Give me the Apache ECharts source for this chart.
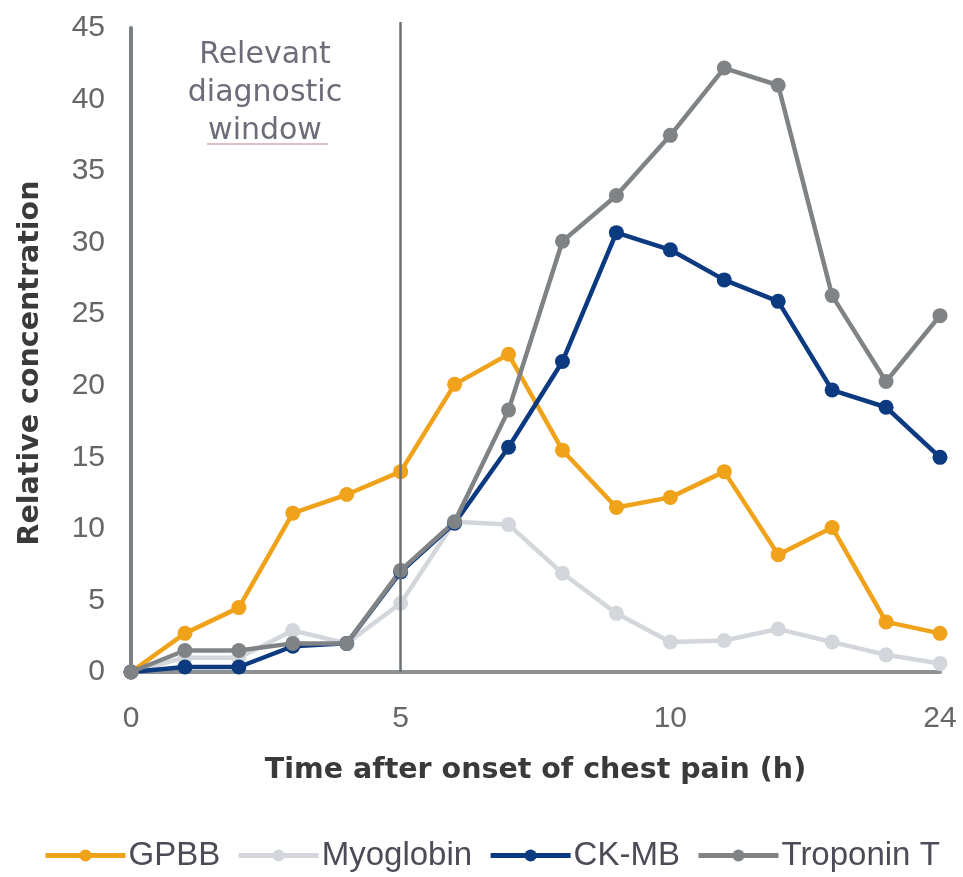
<!DOCTYPE html>
<html>
<head>
<meta charset="utf-8">
<script src="https://cdn.jsdelivr.net/npm/echarts@6/dist/echarts.min.js"></script>
<style>
  html, body { margin: 0; padding: 0; background: #ffffff; }
  #chart { width: 963px; height: 877px; }
</style>
</head>
<body>
<div id="chart"></div>
<script>
// Hours after onset of chest pain (last sample taken at 24 h)
const hours = ['0','1','2','3','4','5','6','7','8','9','10','11','12','13','14','24'];
// Hours that carry a tick label
const labelledHours = ['0','5','10','24'];

// Relative concentration of each marker
const gpbb      = [0, 2.7, 4.5, 11.1, 12.4, 14.0, 20.1, 22.2, 15.5, 11.5, 12.2, 14.0, 8.2, 10.1, 3.5, 2.7];
const myoglobin = [0, 1.0, 1.0, 2.9, 2.0, 4.8, 10.5, 10.3, 6.9, 4.1, 2.1, 2.2, 3.0, 2.1, 1.2, 0.6];
const ckmb      = [0, 0.35, 0.35, 1.8, 2.0, 7.0, 10.4, 15.7, 21.7, 30.7, 29.5, 27.4, 25.9, 19.7, 18.5, 15.0];
const troponinT = [0, 1.5, 1.5, 2.0, 2.0, 7.1, 10.5, 18.3, 30.1, 33.3, 37.5, 42.2, 41.0, 26.3, 20.3, 24.9];

// Start of the diagnostic window (hours)
const windowStart = '5';

const chart = echarts.init(document.getElementById('chart'), null, { renderer: 'canvas' });

function lineSeries(name, data, color) {
  return {
    name: name,
    type: 'line',
    data: data,
    symbol: 'circle',
    symbolSize: 15,
    lineStyle: { color: color, width: 4.5 },
    itemStyle: { color: color },
    emphasis: { disabled: true },
    animation: false
  };
}

const series = [
  lineSeries('GPBB', gpbb, '#EFA21A'),
  lineSeries('Myoglobin', myoglobin, '#D3D7DB'),
  lineSeries('CK-MB', ckmb, '#0B3A80'),
  lineSeries('Troponin T', troponinT, '#808386')
];

// vertical marker at the end of the diagnostic window
series[0].markLine = {
  silent: true,
  symbol: ['none', 'none'],
  label: { show: false },
  lineStyle: { color: '#6b7075', width: 2.5, type: 'solid' },
  data: [[{ xAxis: windowStart, y: 22 }, { xAxis: windowStart, yAxis: 0 }]]
};

chart.setOption({
  animation: false,
  backgroundColor: '#ffffff',
  grid: { left: 131, right: 23, top: 28, bottom: 205, containLabel: false },
  xAxis: {
    type: 'category',
    data: hours,
    boundaryGap: false,
    name: 'Time after onset of chest pain (h)',
    nameLocation: 'middle',
    nameGap: 84,
    nameTextStyle: { fontFamily: 'DejaVu Sans', fontWeight: 'bold', fontSize: 28.5, color: '#3a3a3a' },
    axisLine: { show: true, lineStyle: { color: '#8c9296', width: 4 } },
    axisTick: { show: false },
    axisLabel: {
      interval: function (idx, val) { return labelledHours.indexOf(val) >= 0; },
      margin: 32,
      fontFamily: 'Liberation Sans',
      fontSize: 30,
      color: '#666666'
    },
    splitLine: { show: false }
  },
  yAxis: {
    type: 'value',
    min: 0,
    max: 45,
    interval: 5,
    name: 'Relative concentration',
    nameLocation: 'middle',
    nameRotate: 90,
    nameGap: 86,
    nameTextStyle: { fontFamily: 'DejaVu Sans', fontWeight: 'bold', fontSize: 28.5, color: '#3a3a3a', padding: [0, 26, 0, 0] },
    axisLine: { show: true, lineStyle: { color: '#7a7f84', width: 4 } },
    axisTick: { show: false },
    axisLabel: {
      margin: 26,
      fontFamily: 'Liberation Sans',
      fontSize: 30,
      color: '#666666'
    },
    splitLine: { show: false }
  },
  legend: {
    bottom: 0,
    left: 38,
    itemWidth: 80,
    itemHeight: 15,
    itemGap: 16,
    lineStyle: { width: 5 },
    textStyle: { fontFamily: 'Liberation Sans', fontSize: 33, color: '#4c4c58', padding: [0, 0, 0, -2] },
    data: ['GPBB', 'Myoglobin', 'CK-MB', 'Troponin T']
  },
  graphic: [
    {
      type: 'text',
      x: 265,
      y: 36,
      style: {
        text: 'Relevant\ndiagnostic\nwindow',
        align: 'center',
        fontFamily: 'DejaVu Sans',
        fontSize: 30,
        lineHeight: 38,
        fill: '#6c6c7a'
      }
    },
    {
      type: 'line',
      shape: { x1: 207, y1: 144, x2: 328, y2: 144 },
      style: { stroke: '#d9a9b9', lineWidth: 1.5 }
    }
  ],
  series: series
});
</script>
</body>
</html>
